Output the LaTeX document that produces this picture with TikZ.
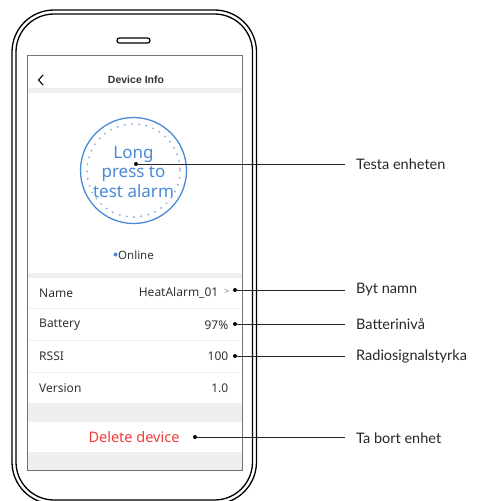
\documentclass[tikz,border=0pt]{standalone}
\usepackage{fontspec}
\setmainfont{Noto Sans}
\newfontfamily\calloutfont{Lato}
\newfontfamily\titlefont{Liberation Sans}
\definecolor{phblue}{HTML}{4A89D6}
\definecolor{phdots}{HTML}{8FB6E6}
\definecolor{phgray}{HTML}{EEEFEF}
\definecolor{phline}{HTML}{F2F2F2}
\definecolor{phred}{HTML}{F23B3B}
\definecolor{phtext}{HTML}{333333}
\tikzset{
  phoneline/.style={line width=1.3pt, black},
  band/.style={fill=phgray, draw=none},
  sep/.style={draw=phline, line width=0.8pt},
  rowlabel/.style={anchor=west, inner sep=0pt, text=phtext, font=\fontsize{12}{14}\selectfont},
  rowvalue/.style={anchor=east, inner sep=0pt, text=phtext, font=\fontsize{12}{14}\selectfont},
  callout/.style={anchor=west, inner sep=0pt, font=\calloutfont\fontsize{14.5}{17}\selectfont, text=black!85},
  pin/.style={circle, fill=black, inner sep=0pt, minimum size=4pt},
  leader/.style={line width=0.8pt, black!85},
}
\begin{document}
\begin{tikzpicture}[x=1pt,y=-1pt]
\useasboundingbox (0,0) rectangle (478,501);
% phone outline
\draw[phoneline, rounded corners=42pt] (12,10) rectangle (256.5,504);
\draw[phoneline, rounded corners=38pt] (16,14) rectangle (252.5,500);
% speaker
\draw[line width=1.2pt, rounded corners=2.4pt] (117,38) rectangle (150,43);
% screen
\fill[white] (27,55) rectangle (242,470);
\fill[band] (27,88) rectangle (242,93);
\fill[band] (27,273) rectangle (242,278);
\fill[band] (27,403) rectangle (242,422);
\fill[band] (27,452) rectangle (242,470);
\draw[sep] (27,308) -- (242,308);
\draw[sep] (27,340) -- (242,340);
\draw[sep] (27,372) -- (242,372);
\draw[draw=black!55, line width=0.8pt] (27,55) rectangle (242,470);
% header
\draw[line width=1.1pt, line cap=round, line join=round] (43,75) -- (38.5,80) -- (43,85);
\node[font=\titlefont\bfseries\fontsize{10.5}{12}\selectfont, text=phtext, inner sep=0pt] (title) at (136,80) {Device Info};
% test button
\draw[phblue, line width=1.3pt] (133.5,170.5) circle (53);
\draw[phdots, line width=2.2pt, line cap=round, dash pattern=on 0pt off 7.25pt] (133.5,170.5) circle (46.5);
\node[align=center, text=phblue, inner sep=0pt, font=\fontsize{17}{19.5}\selectfont] (btn) at (133.5,172) {Long\\press to\\test alarm};
% online
\node[circle, fill=phblue, inner sep=0pt, minimum size=4pt] (odot) at (115.5,254.5) {};
\node[anchor=west, inner sep=0pt, text=phtext, font=\fontsize{11.5}{13}\selectfont] (online) at (118,255.5) {Online};
% rows
\node[rowlabel] (lname) at (39,293) {Name};
\node[rowvalue] (vname) at (218.5,293) {HeatAlarm\_01};
\node[inner sep=0pt, text=black!50, font=\fontsize{9}{10}\selectfont] (chev) at (227,292) {>};
\node[rowlabel] (lbat) at (39,325) {Battery};
\node[rowvalue] (vbat) at (228.5,325) {97\%};
\node[rowlabel] (lrssi) at (39,356.5) {RSSI};
\node[rowvalue] (vrssi) at (228.5,356.5) {100};
\node[rowlabel] (lver) at (39,388) {Version};
\node[rowvalue] (vver) at (228.5,388) {1.0};
\node[inner sep=0pt, text=phred, font=\fontsize{14.5}{16}\selectfont] (del) at (134,437.5) {Delete device};
% pins
\node[pin] (p1) at (136,164) {};
\node[pin] (p2) at (235,290) {};
\node[pin] (p3) at (235,324) {};
\node[pin] (p4) at (235,356) {};
\node[pin] (p5) at (195,437) {};
% callouts
\node[callout] (c1) at (356,164) {Testa enheten};
\node[callout] (c2) at (356,290) {Byt namn};
\node[callout] (c3) at (356,324) {Batterinivå};
\node[callout] (c4) at (356,356) {Radiosignalstyrka};
\node[callout] (c5) at (356,438) {Ta bort enhet};
\coordinate (e1) at (345,164);
\coordinate (e2) at (345,290);
\coordinate (e3) at (345,324);
\coordinate (e4) at (345,356);
\coordinate (e5) at (345,437);
\draw[leader] (p1.center) -- (e1);
\draw[leader] (p2.center) -- (e2);
\draw[leader] (p3.center) -- (e3);
\draw[leader] (p4.center) -- (e4);
\draw[leader] (p5.center) -- (e5);
\end{tikzpicture}
\end{document}
